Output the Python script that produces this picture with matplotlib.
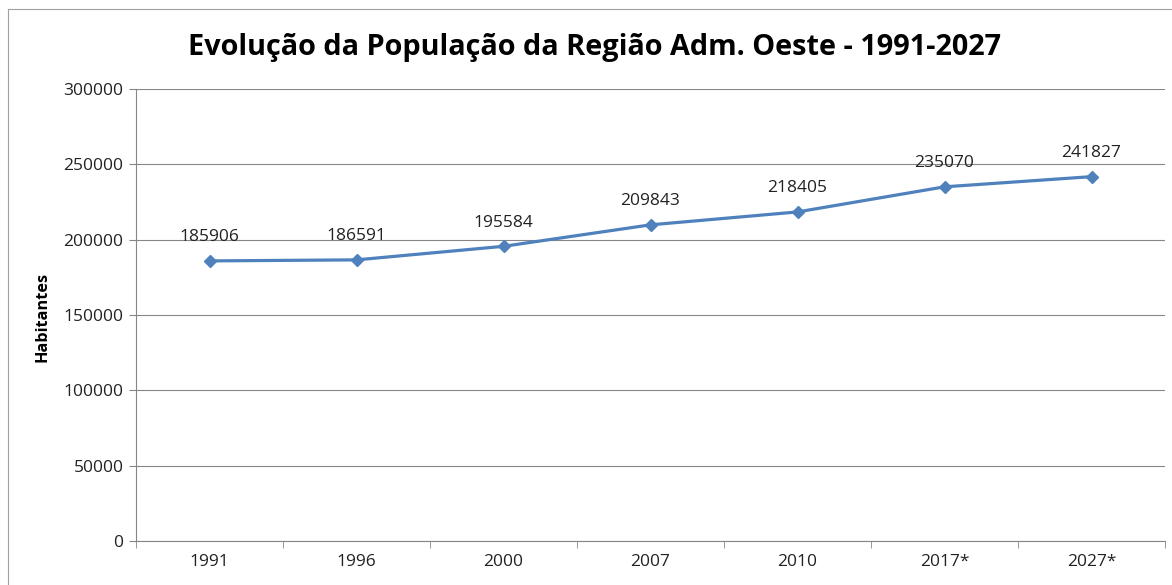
import matplotlib
matplotlib.use("Agg")
import matplotlib.pyplot as plt
from matplotlib.lines import Line2D

plt.rcParams['font.family'] = ['Open Sans', 'DejaVu Sans']

# Dados
anos = ['1991', '1996', '2000', '2007', '2010', '2017*', '2027*']
habitantes = [185906, 186591, 195584, 209843, 218405, 235070, 241827]
yticks = [0, 50000, 100000, 150000, 200000, 250000, 300000]

cor_linha = '#4F81BD'
cor_grade = '#868686'

fig = plt.figure(figsize=(11.72, 5.85), dpi=100)
ax = fig.add_axes([136 / 1172, 1 - 541 / 585, (1165 - 136) / 1172, (541 - 89) / 585])

x = list(range(len(anos)))
ax.plot(x, habitantes, color=cor_linha, linewidth=2.3, marker='D', markersize=6.5,
        zorder=3)

# rótulos de dados
for xi, v in zip(x, habitantes):
    ax.annotate(str(v), (xi, v), xytext=(0, 17), textcoords='offset points',
                ha='center', va='center', fontsize=12.5, color='#222222')

ax.set_xlim(-0.5, len(anos) - 0.5)
ax.set_ylim(0, 300000)
ax.set_yticks(yticks)
ax.set_yticklabels([str(t) for t in yticks], fontsize=12.5, color='#222222')
ax.set_xticks(x)
ax.set_xticklabels(anos, fontsize=12.5, color='#222222')
ax.tick_params(axis='x', length=0, pad=9)
ax.set_xticks([i - 0.5 for i in range(len(anos) + 1)], minor=True)
ax.tick_params(axis='x', which='minor', length=5, color=cor_grade, direction='out')
ax.tick_params(axis='y', length=5, color=cor_grade, pad=4)

ax.yaxis.grid(True, color=cor_grade, linewidth=0.8)
ax.set_axisbelow(True)
for s in ['top', 'right']:
    ax.spines[s].set_visible(False)
for s in ['left', 'bottom']:
    ax.spines[s].set_color(cor_grade)
    ax.spines[s].set_linewidth(0.8)

fig.text(43 / 1172, 1 - 317 / 585, 'Habitantes', rotation=90, ha='center', va='center',
         fontsize=11.7, fontweight='bold')

fig.text(594 / 1172, 1 - 47 / 585, 'Evolução da População da Região Adm. Oeste - 1991-2027',
         ha='center', va='center', fontsize=20.8, fontweight='bold')

# moldura do gráfico
fig.add_artist(Line2D([8 / 1172, 8 / 1172], [0, 1 - 9 / 585], color='#a0a0a0', linewidth=0.8))
fig.add_artist(Line2D([8 / 1172, 1], [1 - 9 / 585, 1 - 9 / 585], color='#a0a0a0', linewidth=0.8))

fig.savefig('out.png', dpi=100)
